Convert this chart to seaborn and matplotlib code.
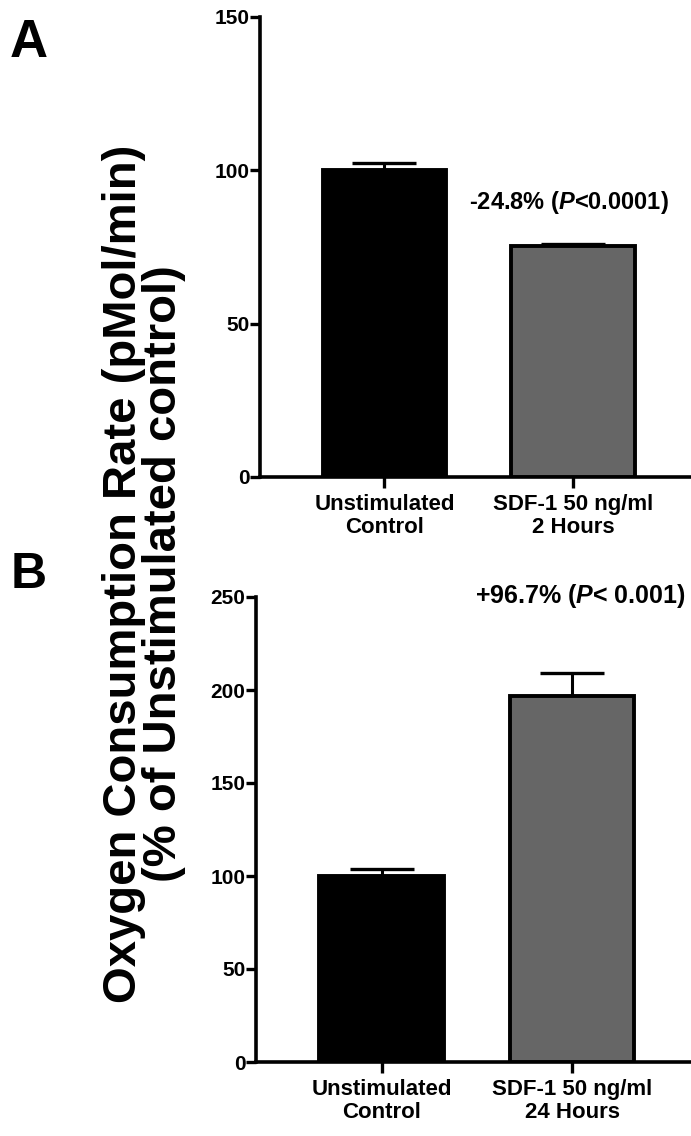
import matplotlib
matplotlib.use("Agg")
import matplotlib.pyplot as plt
import seaborn as sns
import numpy as np

# ---- data ----
cats_a = ["Unstimulated\nControl", "SDF-1 50 ng/ml\n2 Hours"]
vals_a = [100.0, 75.2]
err_a = [2.4, 0.8]
yticks_a = [0, 50, 100, 150]
note_a = r"-24.8% ($\mathit{P}$<0.0001)"

cats_b = ["Unstimulated\nControl", "SDF-1 50 ng/ml\n24 Hours"]
vals_b = [100.0, 196.7]
err_b = [3.8, 12.4]
yticks_b = [0, 50, 100, 150, 200, 250]
note_b = r"+96.7% ($\mathit{P}$< 0.001)"

bar_colors = ["#000000", "#666666"]
ylabel = "Oxygen Consumption Rate (pMol/min)\n(% of Unstimulated control)"

sns.set_style("white")
plt.rcParams["font.family"] = ["Liberation Sans", "DejaVu Sans"]
plt.rcParams["font.weight"] = "bold"
plt.rcParams["text.color"] = "black"
plt.rcParams["xtick.color"] = "black"
plt.rcParams["ytick.color"] = "black"
plt.rcParams["axes.labelcolor"] = "black"
plt.rcParams["mathtext.fontset"] = "custom"
plt.rcParams["mathtext.it"] = "Liberation Sans:italic:bold"
plt.rcParams["mathtext.rm"] = "Liberation Sans:bold"
plt.rcParams["mathtext.bf"] = "Liberation Sans:bold"

W, H = 691, 1136
fig = plt.figure(figsize=(W / 100, H / 100), dpi=100)


def panel(left_px, bottom_px, top_px, cats, vals, errs, yticks, ymax, note, note_xy, note_fs):
    ax = fig.add_axes([left_px / W, 1 - bottom_px / H, 1 - left_px / W, (bottom_px - top_px) / H])
    sns.barplot(x=cats, y=vals, hue=cats, palette=bar_colors, legend=False,
                width=0.655, edgecolor="black", linewidth=2.8, ax=ax, zorder=3)
    ax.errorbar([0, 1], vals, yerr=[np.zeros(len(errs)), errs], fmt="none",
                ecolor="black", elinewidth=2.2, capsize=23, capthick=2.4, zorder=2)
    ax.set_ylim(0, ymax)
    ax.set_xlim(-0.66, 1.625)
    ax.set_yticks(yticks)
    ax.set_yticklabels([str(t) for t in yticks], fontsize=15, fontweight="bold", color="black")
    ax.set_xticks([0, 1])
    ax.set_xticklabels(cats, fontsize=16, fontweight="bold", linespacing=1.12, color="black")
    for s in ["top", "right"]:
        ax.spines[s].set_visible(False)
    for s in ["left", "bottom"]:
        ax.spines[s].set_linewidth(2.6)
        ax.spines[s].set_color("black")
    ax.tick_params(axis="y", direction="out", length=7, width=2.4, pad=0.5, left=True, colors="black")
    ax.tick_params(axis="x", direction="out", length=8, width=2.4, pad=4, bottom=True, colors="black")
    ax.set_xlabel("")
    ax.set_ylabel("")
    ax.text(note_xy[0], note_xy[1], note, ha="center", va="center", fontsize=note_fs,
            fontweight="bold", color="black", clip_on=False)
    ax.patch.set_alpha(0)
    return ax


panel(260, 477, 17, cats_a, vals_a, err_a, yticks_a, 150, note_a, (0.98, 89.5), 17)
panel(256, 1062, 597, cats_b, vals_b, err_b, yticks_b, 250, note_b, (1.045, 250.5), 18)

fig.text(29 / W, 1 - 43 / H, "A", fontsize=38, fontweight="bold", ha="center", va="center", color="black")
fig.text(29 / W, 1 - 575 / H, "B", fontsize=36, fontweight="bold", ha="center", va="center", color="black")
fig.text(144 / W, 1 - 574 / H, ylabel, rotation=90, ha="center", va="center",
         multialignment="center", fontsize=34, fontweight="bold", linespacing=0.9, color="black")

fig.savefig("out.png", dpi=100)
